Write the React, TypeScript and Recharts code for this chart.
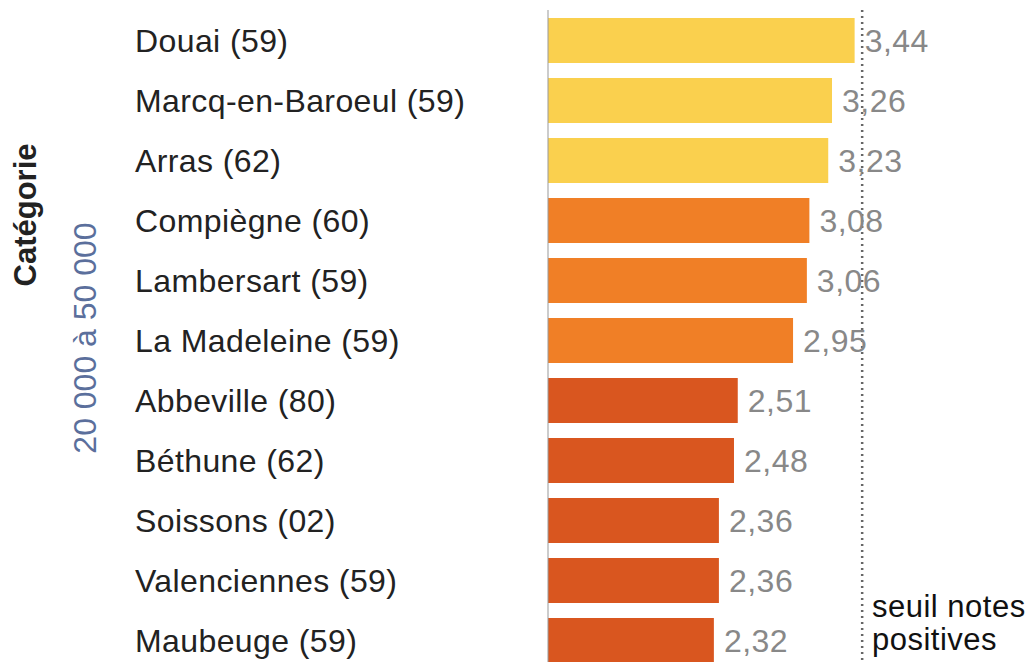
import { BarChart, Bar, XAxis, YAxis, Cell, LabelList, ReferenceLine } from "recharts";

const villes = [
  "Douai (59)",
  "Marcq-en-Baroeul (59)",
  "Arras (62)",
  "Compiègne (60)",
  "Lambersart (59)",
  "La Madeleine (59)",
  "Abbeville (80)",
  "Béthune (62)",
  "Soissons (02)",
  "Valenciennes (59)",
  "Maubeuge (59)",
];
const notes = [3.44, 3.26, 3.23, 3.08, 3.06, 2.95, 2.51, 2.48, 2.36, 2.36, 2.32];
const seuil = 3.5;
const categorie = "20 000 à 50 000";

const data = villes.map((v, i) => ({ ville: v, note: notes[i] }));

// couleur selon la tranche de note
function couleur(n: number) {
  if (n >= 3.2) return "#FAD04E";
  if (n >= 2.9) return "#F07F26";
  return "#D9561F";
}

const FONT = "'Liberation Sans', Arial, sans-serif";

function TickVille(props: any) {
  const { y, payload } = props;
  return (
    <text
      x={135}
      y={y}
      dy="0.36em"
      textAnchor="start"
      fontSize={32}
      letterSpacing={0.4}
      fill="#222"
      fontFamily={FONT}
    >
      {payload.value}
    </text>
  );
}

export default function App() {
  return (
    <div style={{ position: "absolute", left: 0, top: 0, width: 1030, height: 662, overflow: "hidden", background: "#fff" }}>
      <BarChart
        width={1030}
        height={680}
        data={data}
        layout="vertical"
        margin={{ top: 10, right: 105, left: 0, bottom: 10 }}
      >
        <XAxis
          type="number"
          orientation="top"
          domain={[1, 4]}
          height={0}
          tick={false}
          tickLine={false}
          axisLine={{ stroke: "#dfe6df" }}
        />
        <YAxis
          type="category"
          dataKey="ville"
          width={548}
          tickLine={false}
          axisLine={{ stroke: "#999" }}
          tick={<TickVille />}
          interval={0}
        />
        <Bar dataKey="note" barSize={45} isAnimationActive={false}>
          {data.map((d, i) => (
            <Cell key={i} fill={couleur(d.note)} />
          ))}
          <LabelList
            dataKey="note"
            position="right"
            offset={10}
            fill="#888"
            fontSize={32}
            letterSpacing={0.5}
            fontFamily={FONT}
            formatter={(v: any) => Number(v).toFixed(2).replace(".", ",")}
          />
        </Bar>
        <ReferenceLine x={seuil} stroke="#666" strokeWidth={2.5} strokeDasharray="2 4" />
      </BarChart>
      <svg width={1030} height={662} style={{ position: "absolute", left: 0, top: 0, pointerEvents: "none" }}>
        <text
          transform="translate(36,215) rotate(-90)"
          textAnchor="middle"
          fontSize={31}
          fontWeight="bold"
          fill="#222"
          fontFamily={FONT}
        >
          Catégorie
        </text>
        <text
          transform="translate(96,338) rotate(-90)"
          textAnchor="middle"
          fontSize={32}
          fill="#5b6f9c"
          fontFamily={FONT}
        >
          {categorie}
        </text>
        <text x={872} y={617} fontSize={31} letterSpacing={0.5} fill="#111" fontFamily={FONT}>
          seuil notes
        </text>
        <text x={872} y={650} fontSize={31} letterSpacing={0.5} fill="#111" fontFamily={FONT}>
          positives
        </text>
      </svg>
    </div>
  );
}
